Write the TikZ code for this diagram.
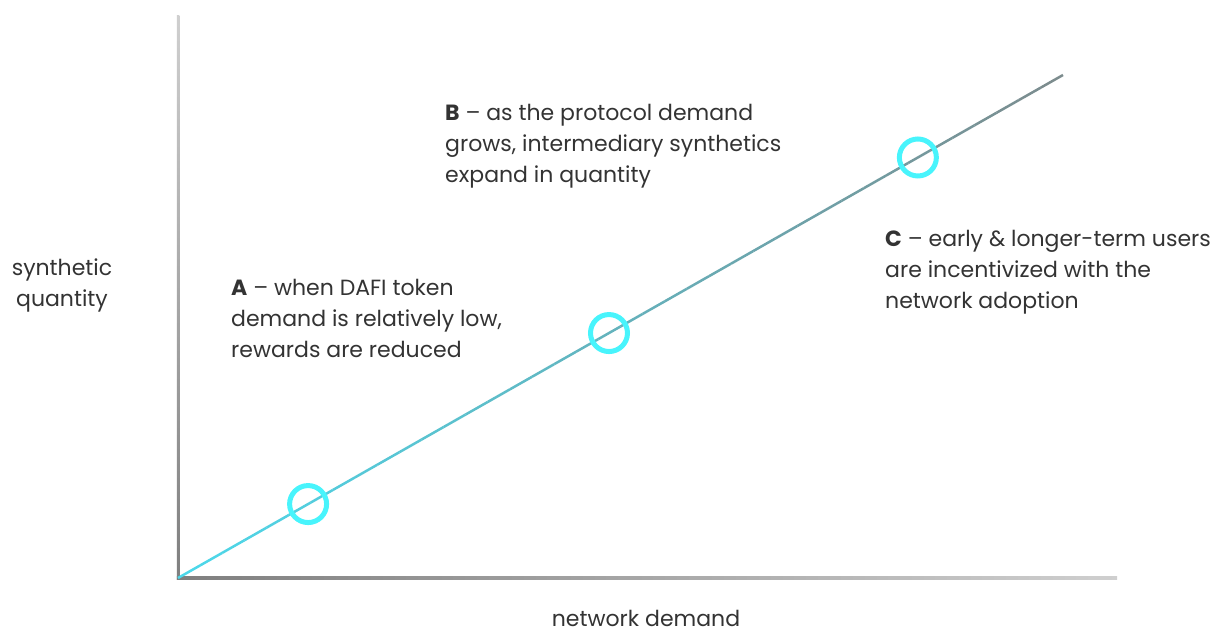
\documentclass[tikz,border=0pt]{standalone}
\usepackage{fontspec}
\setmainfont{Poppins}
\usetikzlibrary{calc,positioning}
\definecolor{linelow}{HTML}{4DD8EA}
\definecolor{linehigh}{HTML}{7D8A8C}
\definecolor{ringcol}{HTML}{48F4FC}
\definecolor{axisdark}{HTML}{7F7F7F}
\definecolor{axislight}{HTML}{CFCFCF}
\definecolor{textcol}{HTML}{333333}
\begin{document}
\begin{tikzpicture}[x=1bp,y=-1bp]
\tikzstyle{every node}+=[inner sep=0pt, text=textcol]
\tikzstyle{ring}=[circle, draw=ringcol, line width=5bp, minimum size=37bp]
\tikzstyle{note}=[anchor=base west, align=left, font=\fontsize{22bp}{31bp}\selectfont]
\useasboundingbox (0,0) rectangle (1227,632);
\coordinate (o) at (178,578);
\coordinate (ytop) at (178,16);
\coordinate (xend) at (1117,578);
\coordinate (lend) at (1063,75);
% axes, fading out
\shade [left color=axisdark, right color=axislight] ($(o)+(-1.25,-1.25)$) rectangle ($(xend)+(0,1.25)$);
\shade [bottom color=axisdark, top color=axislight] ($(ytop)+(-1.25,0)$) rectangle ($(o)+(1.25,1.25)$);
% demand line
\foreach \i in {0,...,39} {
  \pgfmathsetmacro{\p}{100-2.5*\i}
  \draw [linelow!\p!linehigh, line width=2.5bp] ($(o)!\i/40!(lend)$) -- ($(o)!{(\i+1)/40}!(lend)$);
}
\node [ring] (ringA) at ($(o)!0.147!(lend)$) {};
\node [ring] (ringB) at ($(o)!0.487!(lend)$) {};
\node [ring] (ringC) at ($(o)!0.836!(lend)$) {};
\node [note] (noteA) at (231,358) {\textbf{A} -- when DAFI token\\demand is relatively low,\\rewards are reduced};
\node [note] (noteB) at (445,183) {\textbf{B} -- as the protocol demand\\grows, intermediary synthetics\\expand in quantity};
\node [note] (noteC) at (885,309) {\textbf{C} -- early \& longer-term users\\are incentivized with the\\network adoption};
\node [note, anchor=base, align=center] (ylab) at (62,307) {synthetic\\quantity};
\node [note, anchor=base] (xlab) at (646,626) {network demand};
\end{tikzpicture}
\end{document}
